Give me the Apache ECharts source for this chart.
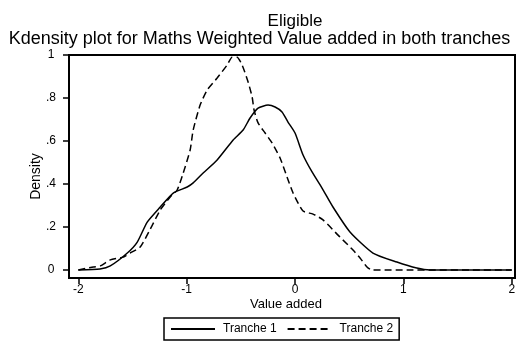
<!DOCTYPE html>
<html>
<head>
<meta charset="utf-8">
<script src="https://cdn.jsdelivr.net/npm/echarts@6/dist/echarts.min.js"></script>
<style>
  html, body { margin: 0; padding: 0; background: #fff; }
  #chart { width: 519px; height: 347px; }
</style>
</head>
<body>
<div id="chart"></div>
<script>
// Tick positions on both axes
const xTicks = [-2, -1, 0, 1, 2];
const yTicks = [0, 0.2, 0.4, 0.6, 0.8, 1];

// Kernel density estimates, [value added, density]
const tranche1 = [
  [-2.00, 0.000], [-1.80, 0.005], [-1.705, 0.019], [-1.548, 0.079], [-1.456, 0.130],
  [-1.364, 0.223], [-1.244, 0.293], [-1.124, 0.358], [-0.995, 0.386], [-0.940, 0.405],
  [-0.848, 0.451], [-0.719, 0.512], [-0.571, 0.605], [-0.479, 0.651], [-0.415, 0.707],
  [-0.341, 0.753], [-0.249, 0.767], [-0.184, 0.758], [-0.120, 0.735], [-0.065, 0.688],
  [0.000, 0.637], [0.074, 0.535], [0.157, 0.456], [0.249, 0.381], [0.350, 0.293],
  [0.507, 0.177], [0.719, 0.079], [0.940, 0.037], [1.124, 0.009], [1.244, 0.000],
  [2.00, 0.000]
];
const tranche2 = [
  [-2.00, 0.000], [-1.862, 0.014], [-1.797, 0.019], [-1.705, 0.047], [-1.585, 0.060],
  [-1.521, 0.079], [-1.429, 0.107], [-1.336, 0.190], [-1.244, 0.279], [-1.152, 0.340],
  [-1.088, 0.372], [-1.032, 0.451], [-0.968, 0.558], [-0.940, 0.651], [-0.876, 0.767],
  [-0.811, 0.837], [-0.719, 0.893], [-0.627, 0.953], [-0.581, 0.990], [-0.535, 0.990],
  [-0.488, 0.953], [-0.433, 0.874], [-0.396, 0.805], [-0.378, 0.744], [-0.341, 0.684],
  [-0.276, 0.637], [-0.212, 0.591], [-0.138, 0.521], [-0.074, 0.433], [-0.018, 0.358],
  [0.074, 0.274], [0.166, 0.260], [0.258, 0.233], [0.415, 0.153], [0.535, 0.093],
  [0.600, 0.056], [0.664, 0.014], [0.710, 0.000], [2.00, 0.000]
];

const FONT = 'Liberation Sans, Arial, sans-serif';
const chart = echarts.init(document.getElementById('chart'), null, { renderer: 'canvas' });

// Stata-style tick text: ".2" instead of "0.2"
const stataNum = v => String(v).replace(/^(-?)0\./, '$1.');

chart.setOption({
  animation: false,
  backgroundColor: '#fff',
  title: [
    {
      text: 'Eligible',
      left: 290, top: 8, textAlign: 'center',
      textStyle: { fontFamily: FONT, fontSize: 17, fontWeight: 'normal', color: '#000' }
    },
    {
      text: 'Kdensity plot for Maths Weighted Value added in both tranches',
      left: 'center', top: 25,
      textStyle: { fontFamily: FONT, fontSize: 18, fontWeight: 'normal', color: '#000' }
    }
  ],
  grid: {
    left: 69, right: 4, top: 55, bottom: 69,
    show: true, borderColor: '#000', borderWidth: 2, backgroundColor: '#fff'
  },
  legend: {
    left: 164, top: 318,
    orient: 'horizontal',
    padding: [5, 6, 5, 6],
    itemWidth: 44, itemHeight: 14, itemGap: 10,
    borderColor: '#000', borderWidth: 1.5,
    itemStyle: { opacity: 0 },
    textStyle: { fontFamily: FONT, fontSize: 12, color: '#000', padding: [0, 0, 0, 3] },
    data: ['Tranche 1', 'Tranche 2']
  },
  xAxis: {
    type: 'value',
    min: -2.086, max: 2.03,
    name: 'Value added',
    nameLocation: 'middle', nameGap: 20, nameMoveOverlap: false,
    nameTextStyle: { fontFamily: FONT, fontSize: 13, color: '#000', padding: [0, 12, 0, 0] },
    axisLine: { show: true, onZero: false, lineStyle: { color: '#000', width: 2 } },
    axisTick: { show: true, length: 6, customValues: xTicks, lineStyle: { color: '#000', width: 1.5 } },
    axisLabel: {
      customValues: xTicks, margin: 6,
      fontFamily: FONT, fontSize: 12, color: '#000',
      formatter: v => stataNum(v)
    },
    splitLine: { show: false }
  },
  yAxis: {
    type: 'value',
    min: -0.0372, max: 1,
    name: 'Density',
    nameLocation: 'middle', nameGap: 26, nameMoveOverlap: false,
    nameTextStyle: { fontFamily: FONT, fontSize: 14, color: '#000', padding: [0, 20, 0, 0] },
    axisLine: { show: true, onZero: false, lineStyle: { color: '#000', width: 2 } },
    axisTick: { show: true, length: 6, customValues: yTicks, lineStyle: { color: '#000', width: 1.5 } },
    axisLabel: {
      customValues: yTicks, margin: 18, align: 'center',
      fontFamily: FONT, fontSize: 12, color: '#000',
      formatter: v => stataNum(v)
    },
    splitLine: { show: false }
  },
  series: [
    {
      name: 'Tranche 1', type: 'line', data: tranche1,
      symbol: 'none', smooth: 0.2,
      lineStyle: { color: '#000', width: 1.5, type: 'solid' },
      itemStyle: { color: '#000' }
    },
    {
      name: 'Tranche 2', type: 'line', data: tranche2,
      symbol: 'none', smooth: 0.2,
      lineStyle: { color: '#000', width: 1.5, type: [7, 4] },
      itemStyle: { color: '#000' }
    }
  ]
});
</script>
</body>
</html>
